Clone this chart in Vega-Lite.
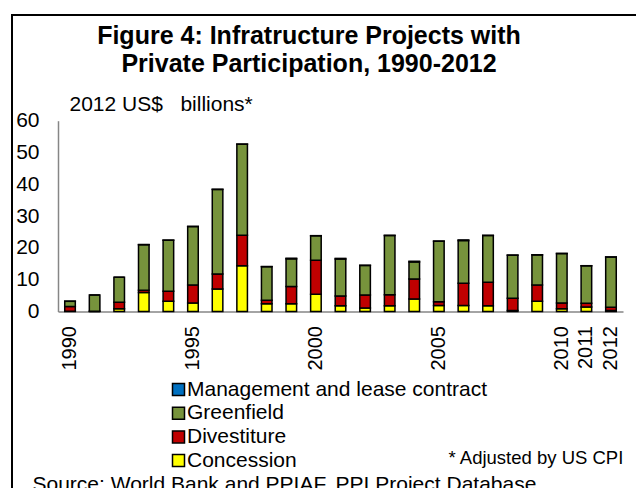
{
  "$schema": "https://vega.github.io/schema/vega-lite/v6.json",
  "width": 628,
  "height": 477,
  "autosize": {"type": "none"},
  "padding": {"left": 12, "top": 15, "right": 0, "bottom": 0},
  "background": "white",
  "config": {
    "font": "Liberation Sans",
    "view": {"stroke": "black", "strokeWidth": 2},
    "axis": {"grid": false, "labelColor": "black", "titleColor": "black", "titleFontWeight": "normal"}
  },
  "title": {
    "text": ["Figure 4: Infratructure Projects with", "Private Participation, 1990-2012"],
    "fontSize": 25,
    "fontWeight": "bold",
    "color": "black",
    "anchor": "middle",
    "baseline": "top",
    "lineHeight": 28,
    "dx": -17,
    "offset": -62
  },
  "data": {
    "values": [
      {"Year": "1990", "Type": "Concession", "Value": 0.1},
      {"Year": "1990", "Type": "Divestiture", "Value": 1.5},
      {"Year": "1990", "Type": "Greenfield", "Value": 1.6},
      {"Year": "1990", "Type": "Management and lease contract", "Value": 0.05},
      {"Year": "1991", "Type": "Concession", "Value": 0},
      {"Year": "1991", "Type": "Divestiture", "Value": 0.1},
      {"Year": "1991", "Type": "Greenfield", "Value": 5.1},
      {"Year": "1991", "Type": "Management and lease contract", "Value": 0},
      {"Year": "1992", "Type": "Concession", "Value": 0.9},
      {"Year": "1992", "Type": "Divestiture", "Value": 2.0},
      {"Year": "1992", "Type": "Greenfield", "Value": 7.9},
      {"Year": "1992", "Type": "Management and lease contract", "Value": 0},
      {"Year": "1993", "Type": "Concession", "Value": 6.0},
      {"Year": "1993", "Type": "Divestiture", "Value": 0.7},
      {"Year": "1993", "Type": "Greenfield", "Value": 14.3},
      {"Year": "1993", "Type": "Management and lease contract", "Value": 0.05},
      {"Year": "1994", "Type": "Concession", "Value": 3.2},
      {"Year": "1994", "Type": "Divestiture", "Value": 3.2},
      {"Year": "1994", "Type": "Greenfield", "Value": 16.0},
      {"Year": "1994", "Type": "Management and lease contract", "Value": 0.05},
      {"Year": "1995", "Type": "Concession", "Value": 2.7},
      {"Year": "1995", "Type": "Divestiture", "Value": 5.6},
      {"Year": "1995", "Type": "Greenfield", "Value": 18.4},
      {"Year": "1995", "Type": "Management and lease contract", "Value": 0.05},
      {"Year": "1996", "Type": "Concession", "Value": 7.1},
      {"Year": "1996", "Type": "Divestiture", "Value": 4.7},
      {"Year": "1996", "Type": "Greenfield", "Value": 26.6},
      {"Year": "1996", "Type": "Management and lease contract", "Value": 0.05},
      {"Year": "1997", "Type": "Concession", "Value": 14.4},
      {"Year": "1997", "Type": "Divestiture", "Value": 9.6},
      {"Year": "1997", "Type": "Greenfield", "Value": 28.6},
      {"Year": "1997", "Type": "Management and lease contract", "Value": 0.05},
      {"Year": "1998", "Type": "Concession", "Value": 2.4},
      {"Year": "1998", "Type": "Divestiture", "Value": 1.1},
      {"Year": "1998", "Type": "Greenfield", "Value": 10.6},
      {"Year": "1998", "Type": "Management and lease contract", "Value": 0.05},
      {"Year": "1999", "Type": "Concession", "Value": 2.4},
      {"Year": "1999", "Type": "Divestiture", "Value": 5.45},
      {"Year": "1999", "Type": "Greenfield", "Value": 8.7},
      {"Year": "1999", "Type": "Management and lease contract", "Value": 0.2},
      {"Year": "2000", "Type": "Concession", "Value": 5.4},
      {"Year": "2000", "Type": "Divestiture", "Value": 10.7},
      {"Year": "2000", "Type": "Greenfield", "Value": 7.7},
      {"Year": "2000", "Type": "Management and lease contract", "Value": 0.05},
      {"Year": "2001", "Type": "Concession", "Value": 1.8},
      {"Year": "2001", "Type": "Divestiture", "Value": 3.1},
      {"Year": "2001", "Type": "Greenfield", "Value": 11.6},
      {"Year": "2001", "Type": "Management and lease contract", "Value": 0.2},
      {"Year": "2002", "Type": "Concession", "Value": 1.1},
      {"Year": "2002", "Type": "Divestiture", "Value": 4.1},
      {"Year": "2002", "Type": "Greenfield", "Value": 9.3},
      {"Year": "2002", "Type": "Management and lease contract", "Value": 0.05},
      {"Year": "2003", "Type": "Concession", "Value": 1.8},
      {"Year": "2003", "Type": "Divestiture", "Value": 3.5},
      {"Year": "2003", "Type": "Greenfield", "Value": 18.6},
      {"Year": "2003", "Type": "Management and lease contract", "Value": 0.05},
      {"Year": "2004", "Type": "Concession", "Value": 3.9},
      {"Year": "2004", "Type": "Divestiture", "Value": 6.3},
      {"Year": "2004", "Type": "Greenfield", "Value": 5.4},
      {"Year": "2004", "Type": "Management and lease contract", "Value": 0.2},
      {"Year": "2005", "Type": "Concession", "Value": 1.9},
      {"Year": "2005", "Type": "Divestiture", "Value": 1.2},
      {"Year": "2005", "Type": "Greenfield", "Value": 19.0},
      {"Year": "2005", "Type": "Management and lease contract", "Value": 0.05},
      {"Year": "2006", "Type": "Concession", "Value": 1.9},
      {"Year": "2006", "Type": "Divestiture", "Value": 7.0},
      {"Year": "2006", "Type": "Greenfield", "Value": 13.4},
      {"Year": "2006", "Type": "Management and lease contract", "Value": 0.2},
      {"Year": "2007", "Type": "Concession", "Value": 1.8},
      {"Year": "2007", "Type": "Divestiture", "Value": 7.4},
      {"Year": "2007", "Type": "Greenfield", "Value": 14.7},
      {"Year": "2007", "Type": "Management and lease contract", "Value": 0.05},
      {"Year": "2008", "Type": "Concession", "Value": 0.3},
      {"Year": "2008", "Type": "Divestiture", "Value": 3.9},
      {"Year": "2008", "Type": "Greenfield", "Value": 13.5},
      {"Year": "2008", "Type": "Management and lease contract", "Value": 0.05},
      {"Year": "2009", "Type": "Concession", "Value": 3.2},
      {"Year": "2009", "Type": "Divestiture", "Value": 5.1},
      {"Year": "2009", "Type": "Greenfield", "Value": 9.5},
      {"Year": "2009", "Type": "Management and lease contract", "Value": 0.05},
      {"Year": "2010", "Type": "Concession", "Value": 0.9},
      {"Year": "2010", "Type": "Divestiture", "Value": 1.8},
      {"Year": "2010", "Type": "Greenfield", "Value": 15.5},
      {"Year": "2010", "Type": "Management and lease contract", "Value": 0.05},
      {"Year": "2011", "Type": "Concession", "Value": 1.4},
      {"Year": "2011", "Type": "Divestiture", "Value": 1.2},
      {"Year": "2011", "Type": "Greenfield", "Value": 11.75},
      {"Year": "2011", "Type": "Management and lease contract", "Value": 0.05},
      {"Year": "2012", "Type": "Concession", "Value": 0.3},
      {"Year": "2012", "Type": "Divestiture", "Value": 1.05},
      {"Year": "2012", "Type": "Greenfield", "Value": 15.75},
      {"Year": "2012", "Type": "Management and lease contract", "Value": 0.05}
    ]
  },
  "layer": [
    {
      "mark": {"type": "bar", "stroke": "black", "strokeWidth": 1.5},
      "encoding": {
        "x": {
          "field": "Year",
          "type": "ordinal",
          "scale": {"range": [46, 611], "paddingInner": 0.57, "paddingOuter": 0.274},
          "axis": {
            "orient": "bottom",
            "offset": -180.5,
            "labelAngle": -90,
            "labelAlign": "right",
            "labelBaseline": "middle",
            "labelPadding": 14,
            "labelFontSize": 20,
            "labelOverlap": false,
            "labelExpr": "indexof(['1990','1995','2000','2005','2010','2011','2012'], datum.label) >= 0 ? datum.label : ''",
            "ticks": false,
            "domainColor": "#868686",
            "domainWidth": 1.5,
            "title": "Source:  World Bank and PPIAF, PPI Project Database.",
            "titleFontSize": 21,
            "titleAlign": "left",
            "titleBaseline": "alphabetic",
            "titleAngle": 0,
            "titleX": 20,
            "titleY": 178.5
          }
        },
        "y": {
          "field": "Value",
          "type": "quantitative",
          "stack": "zero",
          "scale": {"domain": [0, 60], "nice": false, "range": [296.5, 105.7]},
          "axis": {
            "orient": "left",
            "offset": -46,
            "values": [0, 10, 20, 30, 40, 50, 60],
            "ticks": false,
            "labelPadding": 19,
            "labelFontSize": 21,
            "domainColor": "#868686",
            "domainWidth": 1.5,
            "title": "2012 US$\u00a0\u00a0 billions*",
            "titleFontSize": 21,
            "titleAngle": 0,
            "titleAlign": "left",
            "titleBaseline": "alphabetic",
            "titleX": 11,
            "titleY": 95
          }
        },
        "color": {
          "field": "Type",
          "type": "nominal",
          "scale": {
            "domain": ["Management and lease contract", "Greenfield", "Divestiture", "Concession"],
            "range": ["#0070C0", "#77933C", "#C00000", "#FFFF00"]
          },
          "legend": {
            "orient": "none",
            "legendX": 156,
            "legendY": 364,
            "title": null,
            "padding": 0,
            "symbolType": "square",
            "symbolSize": 144,
            "symbolStrokeColor": "black",
            "symbolStrokeWidth": 1.5,
            "symbolOpacity": 1,
            "labelFontSize": 21,
            "labelColor": "black",
            "labelOffset": -2,
            "labelLimit": 0,
            "rowPadding": 1.7
          }
        },
        "order": {"field": "Type", "sort": "ascending"}
      }
    },
    {
      "mark": {"type": "tick", "opacity": 0},
      "encoding": {
        "y": {
          "field": "Value",
          "type": "quantitative",
          "axis": {
            "orient": "right",
            "domain": false,
            "ticks": false,
            "labels": false,
            "title": "* Adjusted by US CPI",
            "titleFontSize": 18.5,
            "titleAngle": 0,
            "titleAlign": "left",
            "titleBaseline": "alphabetic",
            "titleX": -192,
            "titleY": 448
          }
        }
      }
    }
  ],
  "resolve": {"axis": {"y": "independent"}}
}
